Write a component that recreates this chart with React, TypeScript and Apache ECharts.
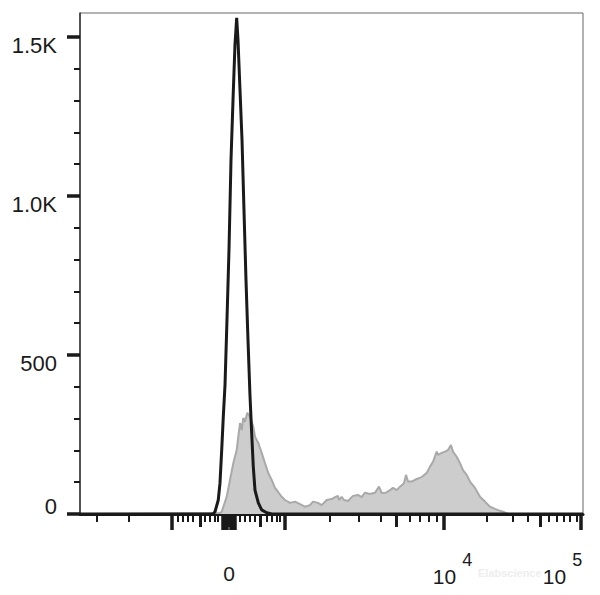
import React, { useEffect, useRef } from "react";
import * as echarts from "echarts";

// x is a display channel scale (0..1000 across the plot width); y is cell count
const controlChannels = [0, 264.4, 268.4, 274.9, 278.3, 281.7, 284.9, 288.3, 292.2, 296.2, 300.2, 304.2, 308.1, 311.5, 314.1, 318.1, 322.1, 326.0, 330.0, 334.0, 337.9, 341.3, 344.5, 347.9, 354.5, 361.2, 371.1, 381.7, 1000];
const controlCounts = [0, 0, 7, 44, 97, 201, 306, 406, 610, 830, 1113, 1302, 1475, 1560, 1491, 1333, 1176, 956, 736, 547, 374, 255, 149, 75, 35, 13, 4, 0, 0];

const stainedChannels = [0, 278.3, 281.7, 291.6, 298.2, 304.8, 311.5, 314.7, 318.1, 321.5, 324.6, 328.0, 332.6, 336.0, 340.0, 344.5, 347.9, 354.5, 361.2, 367.8, 374.3, 381.1, 387.7, 393.6, 401.0, 407.5, 417.5, 427.4, 437.4, 447.3, 457.2, 463.2, 473.1, 480.5, 490.4, 500.4, 506.9, 512.9, 514.9, 520.3, 524.8, 532.8, 542.7, 552.7, 560.0, 566.6, 576.5, 586.5, 594.4, 599.8, 608.3, 616.3, 622.3, 629.6, 636.2, 644.1, 648.1, 652.1, 659.4, 669.4, 679.3, 689.2, 695.8, 701.8, 709.1, 711.7, 719.1, 725.6, 731.6, 737.5, 741.5, 748.9, 755.4, 761.4, 768.8, 775.3, 785.3, 795.2, 805.1, 815.1, 825.0, 835.0, 840.9, 850.9, 1000];
const stainedCounts = [0, 3, 7, 54, 107, 160, 201, 243, 286, 264, 302, 290, 318, 311, 296, 275, 243, 223, 192, 160, 129, 107, 82, 70, 54, 44, 35, 39, 31, 23, 28, 39, 35, 28, 44, 47, 53, 57, 44, 54, 44, 41, 57, 60, 53, 67, 63, 67, 86, 66, 67, 75, 82, 75, 86, 97, 123, 102, 102, 110, 116, 129, 149, 164, 196, 186, 192, 196, 201, 217, 196, 180, 160, 138, 123, 102, 82, 54, 39, 23, 16, 10, 7, 0, 0];

// x tick positions (channels)
const xLongTicks = [182.9, 283.3, 287.3, 291.2, 299.2, 303.2, 307.1, 407.5, 723.6, 996.0];
const xMidTicks = [238.6, 295.2, 357.8, 628.2, 914.5];
const xShortTicks = [33.8, 97.4, 194.8, 204.8, 214.7, 224.6, 248.5, 258.4, 268.4, 274.3, 318.1, 328.0, 338.0, 347.9, 371.8, 381.7, 391.6, 397.6, 497.0, 554.7, 598.4, 656.0, 675.9, 693.8, 709.7, 809.1, 860.8, 890.6, 932.4, 948.3, 962.2, 974.1, 988.0];
const xLabelAnchors = [296.2, 740.5, 959.2];
const xLabelBase = ["0", "10", "10"];
const xLabelExp = ["", "4", "5"];

// y ticks
const yMajorTicks = [0, 500, 1000, 1500];
const yMajorLabels = ["0", "500", "1.0K", "1.5K"];
const yMinorTicks = [100, 200, 300, 400, 600, 700, 800, 900, 1100, 1200, 1300, 1400];

const FONT = "Liberation Sans, Arial, sans-serif";

export default function App() {
  const ref = useRef<HTMLDivElement>(null);
  useEffect(() => {
    if (!ref.current) return;
    const chart = echarts.init(ref.current, null, { renderer: "svg" });
    const pair = (xs: number[], ys: number[]) => xs.map((x, i) => [x, ys[i]]);
    const baseX = { type: "value", min: 0, max: 1000, position: "bottom", offset: 0, splitLine: { show: false } };
    const nearest = (arr: number[], v: number) => {
      let bi = 0;
      arr.forEach((a, i) => { if (Math.abs(a - v) < Math.abs(arr[bi] - v)) bi = i; });
      return bi;
    };
    chart.setOption({
      animation: false,
      backgroundColor: "#ffffff",
      grid: { left: 80, right: 17, top: 13, bottom: 81, show: true, borderColor: "#666", borderWidth: 1, containLabel: false },
      xAxis: [
        {
          ...baseX,
          axisLine: { show: true, onZero: false, lineStyle: { color: "#1a1a1a", width: 3 } },
          axisTick: { show: true, customValues: xLongTicks, length: 16, lineStyle: { color: "#1a1a1a", width: 3.5 } },
          axisLabel: {
            show: true,
            customValues: xLabelAnchors,
            margin: 37,
            formatter: (v: number) => {
              const i = nearest(xLabelAnchors, v);
              return xLabelExp[i] ? `{b|${xLabelBase[i]}}{s|${xLabelExp[i]}}` : `{z|${xLabelBase[i]}}`;
            },
            rich: {
              b: { fontSize: 21, fontFamily: FONT, color: "#1a1a1a", padding: [15, 0, 0, 0] },
              z: { fontSize: 21, fontFamily: FONT, color: "#1a1a1a", padding: [12, 0, 0, 0] },
              s: { fontSize: 18, fontFamily: FONT, color: "#1a1a1a", verticalAlign: "top", padding: [0, 0, 0, 6] },
            },
          },
        },
        {
          ...baseX,
          axisLine: { show: false, onZero: false },
          axisTick: { show: true, customValues: xMidTicks, length: 13, lineStyle: { color: "#1a1a1a", width: 3 } },
          axisLabel: { show: false },
        },
        {
          ...baseX,
          axisLine: { show: false, onZero: false },
          axisTick: { show: true, customValues: xShortTicks, length: 8, lineStyle: { color: "#1a1a1a", width: 2 } },
          axisLabel: { show: false },
        },
      ],
      yAxis: [
        {
          type: "value", min: 0, max: 1575, position: "left", offset: 0,
          splitLine: { show: false },
          axisLine: { show: true, onZero: false, lineStyle: { color: "#333", width: 1.5 } },
          axisTick: { show: true, customValues: yMajorTicks, length: 13, lineStyle: { color: "#1a1a1a", width: 3.5 } },
          axisLabel: {
            show: true,
            customValues: yMajorTicks,
            margin: 23,
            formatter: (v: number) => {
              const i = nearest(yMajorTicks, v);
              return v === 0 ? `{z|${yMajorLabels[i]}}` : `{d|${yMajorLabels[i]}}`;
            },
            rich: {
              d: { fontSize: 22, fontFamily: FONT, color: "#1a1a1a", lineHeight: 22, padding: [18, 0, 0, 0] },
              z: { fontSize: 22, fontFamily: FONT, color: "#1a1a1a", lineHeight: 22, padding: [0, 0, 16, 0] },
            },
          },
        },
        {
          type: "value", min: 0, max: 1575, position: "left", offset: 0,
          splitLine: { show: false },
          axisLine: { show: false, onZero: false },
          axisTick: { show: true, customValues: yMinorTicks, length: 6, lineStyle: { color: "#1a1a1a", width: 2 } },
          axisLabel: { show: false },
        },
      ],
      graphic: [
        {
          type: "text", left: 478, top: 567,
          style: { text: "Elabscience", fontSize: 11, fontWeight: "bold", fontFamily: FONT, fill: "#eeeeee" },
          silent: true,
        },
      ],
      series: [
        {
          type: "line", name: "stained", xAxisIndex: 0, yAxisIndex: 0,
          data: pair(stainedChannels, stainedCounts),
          showSymbol: false, symbol: "none",
          lineStyle: { color: "#a9a9a9", width: 2 },
          areaStyle: { color: "#cdcdcd", opacity: 1 },
          z: 2,
        },
        {
          type: "line", name: "control", xAxisIndex: 0, yAxisIndex: 0,
          data: pair(controlChannels, controlCounts),
          showSymbol: false, symbol: "none",
          lineStyle: { color: "#1a1a1a", width: 3 },
          z: 3,
        },
      ],
    });
    return () => chart.dispose();
  }, []);
  return <div ref={ref} style={{ position: "absolute", left: 0, top: 0, width: 600, height: 595 }} />;
}
